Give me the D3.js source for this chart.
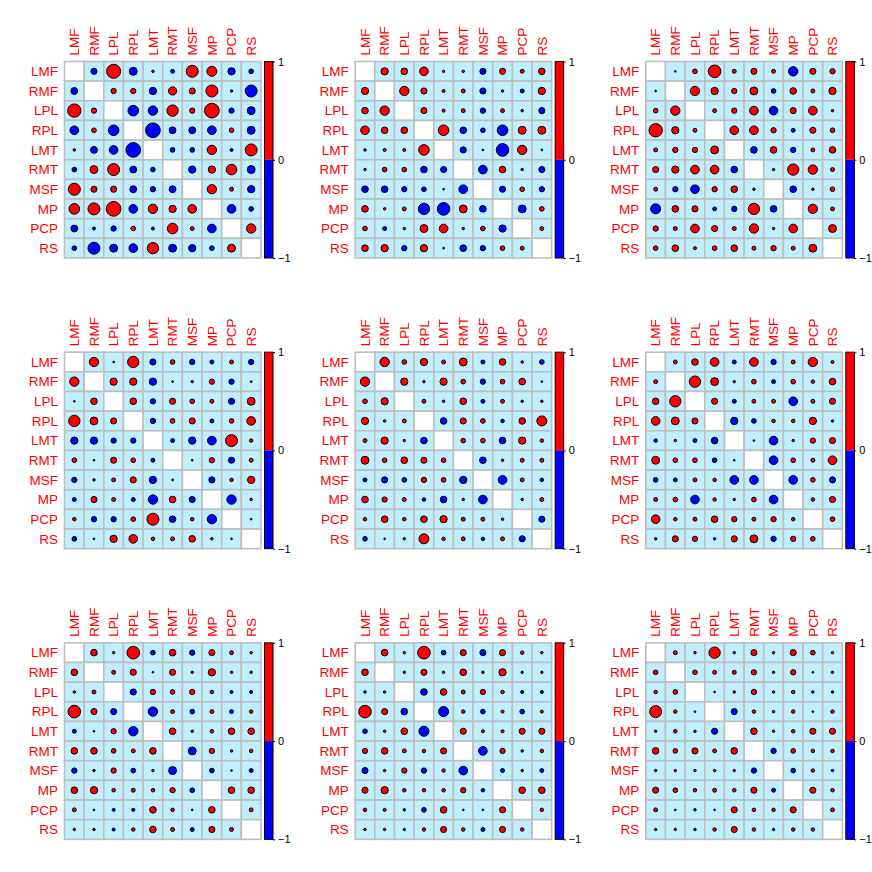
<!DOCTYPE html>
<html>
<head>
<meta charset="utf-8">
<script src="https://cdn.jsdelivr.net/npm/d3@7"></script>
<style>
html,body{margin:0;padding:0;background:#fff;}
text{font-family:"Liberation Sans",Arial,Helvetica,sans-serif;}
</style>
</head>
<body>
<svg id="chart" width="872" height="872"></svg>
<script>
const vars = ["LMF","RMF","LPL","RPL","LMT","RMT","MSF","MP","PCP","RS"];
const legendTicks = [-1, 0, 1];
const _ = null;

const m1 = [
 [_, -0.12, 0.63, -0.20, 0.02, -0.05, 0.46, 0.32, -0.17, -0.07],
 [-0.15, _, 0.09, 0.09, -0.17, 0.22, 0.12, 0.46, 0.02, -0.46],
 [0.57, 0.09, _, -0.36, -0.28, 0.41, 0.09, 0.69, -0.09, -0.20],
 [-0.24, 0.07, -0.36, _, -0.69, -0.15, -0.15, -0.24, 0.07, -0.20],
 [0.02, -0.15, -0.24, -0.69, _, -0.07, -0.07, 0.28, -0.03, 0.46],
 [-0.07, 0.20, 0.46, -0.15, -0.07, _, -0.17, 0.17, 0.36, -0.20],
 [0.46, 0.12, 0.12, -0.15, -0.09, -0.15, _, 0.28, 0.05, -0.17],
 [0.36, 0.46, 0.69, -0.24, 0.28, 0.17, 0.24, _, -0.24, -0.07],
 [-0.15, -0.03, -0.09, 0.07, -0.03, 0.36, 0.05, -0.24, _, 0.28],
 [-0.07, -0.46, -0.20, -0.24, 0.41, -0.20, -0.17, -0.07, 0.20, _]
];
const m2 = [
 [_, 0.17, 0.14, 0.24, 0.02, 0.02, -0.12, 0.12, 0.05, 0.14],
 [0.17, _, 0.28, 0.12, 0.03, 0.05, -0.12, 0.02, -0.05, 0.17],
 [0.14, 0.28, _, 0.12, 0.03, 0.05, -0.09, 0.05, 0.02, -0.12],
 [0.24, 0.14, 0.14, _, 0.36, -0.14, -0.07, -0.36, 0.20, 0.20],
 [0.02, 0.03, 0.03, 0.36, _, -0.12, 0.01, -0.51, 0.28, 0.01],
 [0.02, 0.07, 0.07, -0.14, -0.12, _, -0.24, 0.14, 0.02, -0.12],
 [-0.14, -0.14, -0.09, -0.07, 0.01, -0.24, _, -0.12, 0.07, -0.09],
 [0.14, 0.02, 0.05, -0.41, -0.51, 0.20, -0.14, _, -0.20, 0.07],
 [0.07, -0.05, 0.02, 0.20, 0.24, 0.02, 0.07, -0.17, _, 0.05],
 [0.14, 0.17, -0.09, 0.17, 0.01, -0.14, -0.09, 0.07, 0.05, _]
];
const m3 = [
 [_, 0.01, 0.07, 0.51, 0.05, 0.12, 0.05, -0.28, 0.12, 0.09],
 [0.01, _, 0.28, 0.17, 0.09, 0.20, -0.07, 0.14, 0.05, 0.17],
 [0.07, 0.28, _, 0.05, 0.09, 0.24, -0.24, 0.12, 0.24, 0.02],
 [0.57, 0.17, 0.05, _, 0.24, 0.24, 0.09, -0.05, 0.12, 0.07],
 [0.05, 0.09, 0.09, 0.20, _, -0.14, 0.14, -0.09, 0.05, 0.14],
 [0.12, 0.17, 0.24, 0.24, -0.14, _, 0.02, 0.41, 0.28, 0.05],
 [0.05, -0.09, -0.24, 0.09, 0.14, 0.02, _, -0.14, 0.02, 0.07],
 [-0.32, 0.14, 0.12, -0.05, -0.09, 0.41, -0.14, _, 0.28, 0.05],
 [0.09, 0.05, 0.24, 0.12, 0.05, 0.28, 0.02, 0.24, _, 0.20],
 [0.07, 0.14, 0.03, 0.07, 0.14, 0.05, 0.09, 0.05, 0.20, _]
];
const m4 = [
 [_, 0.28, 0.01, 0.41, -0.12, 0.07, -0.09, -0.05, 0.05, -0.09],
 [0.28, _, 0.17, 0.17, -0.17, 0.01, 0.02, 0.09, -0.09, 0.01],
 [0.01, 0.14, _, 0.14, -0.09, 0.12, 0.07, 0.05, -0.12, 0.20],
 [0.41, 0.20, 0.12, _, -0.09, 0.07, 0.12, -0.05, 0.07, 0.24],
 [-0.17, -0.17, -0.09, -0.09, _, -0.05, -0.17, -0.24, 0.46, 0.04],
 [0.07, 0.01, 0.12, 0.07, -0.05, _, 0.01, 0.09, -0.12, 0.05],
 [-0.09, 0.02, 0.05, 0.12, -0.17, 0.01, _, -0.12, 0.04, 0.17],
 [-0.05, 0.12, 0.05, -0.05, -0.28, 0.14, -0.12, _, -0.28, 0.02],
 [0.04, -0.09, -0.09, 0.07, 0.46, -0.14, 0.04, -0.28, _, 0.01],
 [-0.07, 0.01, 0.17, 0.24, 0.04, 0.05, 0.14, 0.02, 0.01, _]
];
const m5 = [
 [_, 0.28, 0.07, 0.17, 0.05, 0.20, -0.05, 0.14, 0.02, -0.07],
 [0.28, _, 0.17, 0.02, 0.17, 0.07, -0.09, 0.07, 0.14, 0.01],
 [0.07, 0.17, _, 0.05, 0.02, 0.14, -0.05, 0.05, 0.02, 0.02],
 [0.17, 0.02, 0.05, _, -0.14, 0.12, 0.07, -0.04, 0.14, 0.32],
 [0.05, 0.17, 0.02, -0.14, _, 0.07, 0.07, -0.14, 0.17, 0.04],
 [0.20, 0.07, 0.14, 0.12, 0.07, _, -0.14, 0.02, 0.05, 0.05],
 [-0.05, -0.12, -0.07, 0.09, 0.07, -0.17, _, -0.24, 0.05, -0.04],
 [0.14, 0.09, 0.05, -0.04, -0.14, 0.02, -0.24, _, 0.02, 0.05],
 [0.04, 0.14, 0.04, 0.14, 0.17, 0.05, 0.05, 0.02, _, -0.12],
 [-0.07, 0.01, 0.02, 0.32, 0.04, 0.05, -0.04, 0.05, -0.12, _]
];
const m6 = [
 [_, 0.05, 0.14, 0.24, -0.05, 0.24, -0.09, 0.05, 0.28, 0.03],
 [0.05, _, 0.41, 0.20, 0.02, 0.07, -0.05, 0.07, 0.04, 0.14],
 [0.14, 0.41, _, 0.12, -0.05, 0.05, 0.05, -0.24, 0.05, 0.12],
 [0.24, 0.20, 0.12, _, -0.17, -0.07, 0.04, 0.04, 0.17, -0.02],
 [-0.04, 0.02, -0.05, -0.14, _, 0.01, -0.24, 0.02, 0.09, 0.12],
 [0.20, 0.07, 0.07, -0.07, 0.01, _, -0.24, 0.07, 0.05, 0.24],
 [-0.07, -0.05, 0.05, 0.04, -0.24, -0.24, _, -0.24, 0.07, -0.12],
 [0.05, 0.07, -0.24, 0.04, 0.02, 0.07, -0.24, _, 0.04, 0.12],
 [0.24, 0.04, 0.05, 0.14, 0.09, 0.05, 0.09, 0.04, _, 0.07],
 [0.02, 0.12, 0.09, -0.02, 0.12, 0.20, -0.09, 0.09, 0.07, _]
];
const m7 = [
 [_, 0.14, 0.02, 0.51, -0.07, 0.14, -0.09, 0.12, 0.05, 0.02],
 [0.14, _, 0.05, 0.12, 0.01, 0.12, 0.02, 0.17, 0.02, 0.02],
 [0.02, 0.05, _, -0.12, 0.09, 0.07, 0.09, 0.04, -0.03, -0.03],
 [0.51, 0.12, -0.12, _, -0.28, 0.05, -0.07, 0.05, -0.05, 0.04],
 [-0.05, 0.01, 0.09, -0.28, _, 0.14, 0.02, 0.04, 0.14, 0.14],
 [0.14, 0.14, 0.07, 0.05, 0.14, _, -0.20, 0.09, 0.02, 0.04],
 [-0.09, 0.02, 0.09, -0.07, 0.02, -0.20, _, -0.07, 0.01, -0.05],
 [0.14, 0.17, 0.04, 0.05, 0.04, 0.09, -0.07, _, 0.14, 0.14],
 [0.05, 0.01, -0.03, -0.03, 0.14, 0.04, 0.01, 0.14, _, 0.05],
 [0.02, 0.02, -0.03, 0.04, 0.14, 0.05, -0.05, 0.12, 0.05, _]
];
const m8 = [
 [_, 0.14, 0.02, 0.51, -0.07, 0.12, -0.12, 0.12, 0.04, 0.02],
 [0.14, _, 0.02, 0.12, 0.02, 0.14, 0.02, 0.17, 0.02, 0.02],
 [-0.02, 0.02, _, -0.14, 0.14, 0.05, 0.09, 0.04, -0.03, -0.03],
 [0.51, 0.12, -0.14, _, -0.32, 0.04, -0.07, 0.03, -0.07, 0.03],
 [-0.07, 0.02, 0.14, -0.32, _, 0.12, 0.03, 0.03, 0.12, 0.12],
 [0.09, 0.14, 0.05, 0.04, 0.12, _, -0.24, 0.09, 0.02, 0.04],
 [-0.12, 0.02, 0.09, -0.09, 0.04, -0.24, _, -0.05, 0.02, -0.05],
 [0.12, 0.17, 0.04, 0.04, 0.04, 0.09, -0.04, _, 0.14, 0.14],
 [0.04, 0.03, -0.02, -0.07, 0.14, 0.01, -0.01, 0.12, _, 0.04],
 [0.02, 0.02, -0.02, 0.04, 0.12, 0.04, -0.05, 0.12, 0.04, _]
];
const m9 = [
 [_, 0.05, 0.02, 0.41, 0.02, 0.12, 0.02, 0.12, 0.07, 0.02],
 [0.07, _, 0.07, 0.05, 0.05, 0.09, 0.02, 0.09, 0.01, 0.02],
 [0.04, 0.07, _, 0.01, 0.02, 0.09, 0.02, 0.04, -0.02, -0.02],
 [0.46, 0.04, 0.01, _, -0.12, 0.04, 0.02, 0.04, 0.01, 0.04],
 [0.02, 0.04, 0.02, -0.12, _, 0.14, 0.02, 0.04, 0.12, 0.12],
 [0.14, 0.07, 0.12, 0.05, 0.14, _, -0.09, 0.07, 0.04, 0.04],
 [0.02, 0.02, 0.02, 0.02, 0.02, -0.09, _, -0.07, 0.04, -0.02],
 [0.12, 0.07, 0.04, 0.05, 0.04, 0.12, -0.05, _, 0.12, 0.04],
 [0.05, 0.01, -0.02, 0.01, 0.12, 0.04, 0.04, 0.12, _, 0.05],
 [0.02, 0.02, -0.02, 0.04, 0.12, 0.04, -0.02, 0.04, 0.04, _]
];
const panels = [m1, m2, m3, m4, m5, m6, m7, m8, m9];

const svg = d3.select("#chart");
const panelSize = 872 / 3;
const matLeft = 64.5, matTop = 61.5, matSize = 196.5;
const x = d3.scaleBand().domain(vars).range([0, matSize]);
const y = d3.scaleBand().domain(vars).range([0, matSize]);
const r = d3.scaleSqrt().domain([0, 1]).range([0, 0.45 * x.bandwidth()]);
const color = v => v >= 0 ? "#FF0000" : "#0000FF";
const cb = d3.scaleLinear().domain([-1, 1]).range([matSize, 0]);

panels.forEach((mat, pi) => {
  const px = (pi % 3) * panelSize, py = Math.floor(pi / 3) * panelSize;
  const g = svg.append("g").attr("transform", `translate(${px + matLeft},${py + matTop})`);
  const cells = [];
  mat.forEach((row, i) => row.forEach((v, j) => cells.push({ r: vars[i], c: vars[j], v })));
  g.selectAll("rect.cell").data(cells).enter().append("rect")
    .attr("class", "cell")
    .attr("x", d => x(d.c)).attr("y", d => y(d.r))
    .attr("width", x.bandwidth()).attr("height", y.bandwidth())
    .attr("fill", d => d.v === null ? "#FFFFFF" : "#BFEFFF")
    .attr("stroke", "#BEBEBE").attr("stroke-width", 1.6);
  g.selectAll("circle").data(cells.filter(d => d.v !== null)).enter().append("circle")
    .attr("cx", d => x(d.c) + x.bandwidth() / 2)
    .attr("cy", d => y(d.r) + y.bandwidth() / 2)
    .attr("r", d => r(Math.abs(d.v)))
    .attr("fill", d => color(d.v))
    .attr("stroke", "#000").attr("stroke-width", 1);
  // column labels
  g.selectAll("text.col").data(vars).enter().append("text")
    .attr("class", "col")
    .attr("transform", d => `translate(${x(d) + x.bandwidth() / 2 + 4.8},-6) rotate(-90)`)
    .attr("font-size", 13.5).attr("fill", "#FF0000")
    .text(d => d);
  // row labels
  g.selectAll("text.row").data(vars).enter().append("text")
    .attr("class", "row")
    .attr("x", -6.5).attr("y", d => y(d) + y.bandwidth() / 2 + 4.8)
    .attr("text-anchor", "end")
    .attr("font-size", 13.5).attr("fill", "#FF0000")
    .text(d => d);
  // colorbar
  const cg = g.append("g").attr("transform", `translate(${matSize + 3.5},0)`);
  cg.append("rect").attr("x", 0).attr("y", cb(1)).attr("width", 8.5).attr("height", cb(0) - cb(1)).attr("fill", "#FF0000");
  cg.append("rect").attr("x", 0).attr("y", cb(0)).attr("width", 8.5).attr("height", cb(-1) - cb(0)).attr("fill", "#0000FF");
  cg.append("rect").attr("x", 0).attr("y", cb(1)).attr("width", 8.5).attr("height", cb(-1) - cb(1))
    .attr("fill", "none").attr("stroke", "#000").attr("stroke-width", 1);
  const ax = cg.append("g").attr("transform", "translate(8.5,0)")
    .call(d3.axisRight(cb).tickValues(legendTicks).tickSize(2).tickPadding(3).tickFormat(d3.format("d")));
  ax.select(".domain").remove();
  ax.selectAll("text").attr("font-size", 11).attr("fill", "#000").style("font-family", '"Liberation Sans",Arial,sans-serif');
  ax.selectAll("line").attr("stroke", "#000");
});
</script>
</body>
</html>
